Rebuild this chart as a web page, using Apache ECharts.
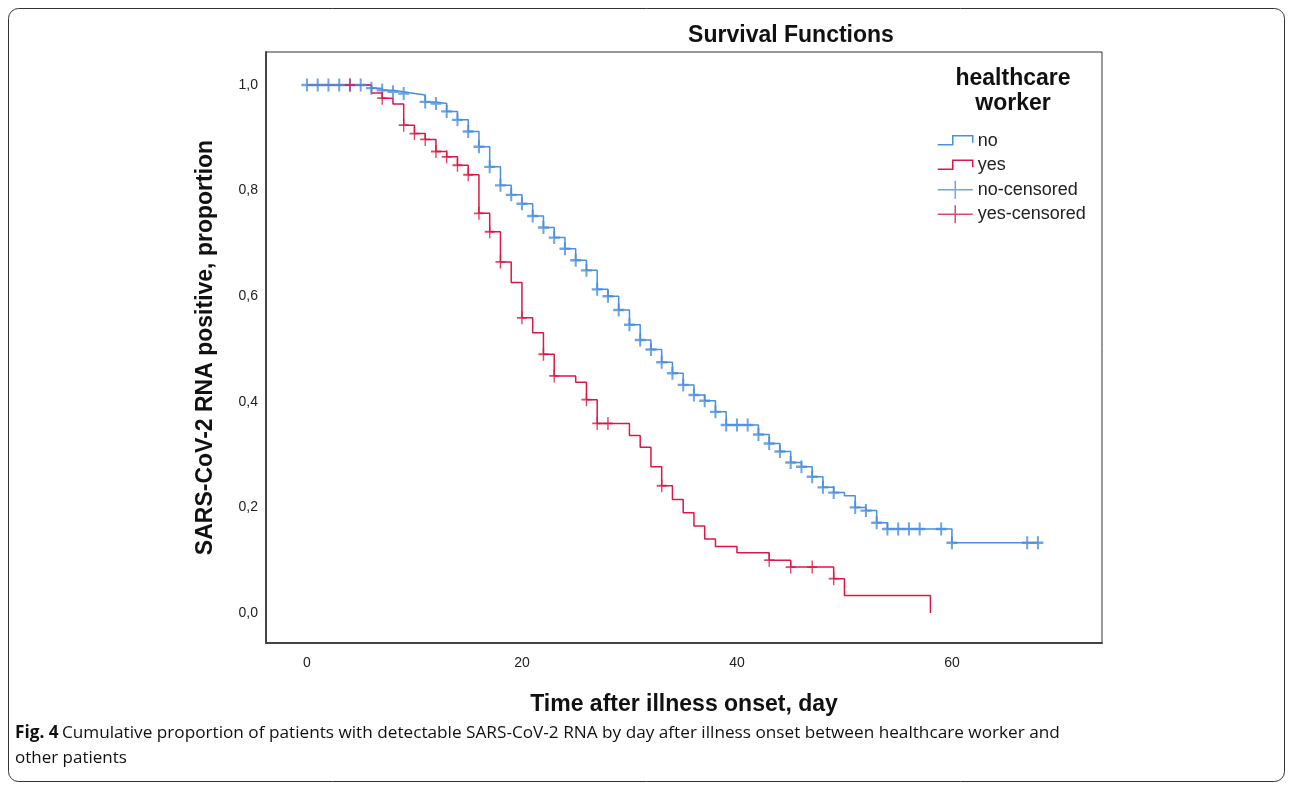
<!DOCTYPE html>
<html>
<head>
<meta charset="utf-8">
<script src="https://cdn.jsdelivr.net/npm/echarts@6/dist/echarts.min.js"></script>
<style>html,body{margin:0;padding:0;background:#fff;}#c{width:1292px;height:789px;}</style>
</head>
<body>
<div id="c"></div>
<script>
// ---- data ----
const xTicks = [0, 20, 40, 60];
const yTicks = [0, 0.2, 0.4, 0.6, 0.8, 1.0];

// healthcare worker = no (Kaplan-Meier steps)
const noTimes = [0,6,7,8,9,10,11,12,13,14,15,16,17,18,19,20,21,22,23,24,25,26,27,28,29,30,31,32,33,34,35,36,37,38,39,42,43,44,45,46,47,48,49,50,51,52,53,54,60,68];
const noSurv  = [1.0,0.994,0.99,0.987,0.984,0.981,0.968,0.965,0.95,0.934,0.912,0.883,0.845,0.81,0.792,0.775,0.752,0.73,0.711,0.69,0.668,0.649,0.613,0.6,0.574,0.546,0.517,0.499,0.475,0.454,0.432,0.413,0.402,0.381,0.356,0.338,0.321,0.306,0.285,0.277,0.258,0.238,0.228,0.222,0.2,0.194,0.171,0.159,0.133,0.133];
// no-censored
const noCensTimes = [0,1,2,3,4,5,6,7,8,9,11,12,13,14,15,16,17,18,19,20,21,22,23,24,25,26,27,28,29,30,31,32,33,34,35,36,37,38,39,40,41,42,43,44,45,46,47,48,49,51,52,53,54,55,56,57,59,60,67,68];
const noCensSurv  = [1.0,1.0,1.0,1.0,1.0,1.0,0.994,0.99,0.987,0.984,0.968,0.965,0.95,0.934,0.912,0.883,0.845,0.81,0.792,0.775,0.752,0.73,0.711,0.69,0.668,0.649,0.613,0.6,0.574,0.546,0.517,0.499,0.475,0.454,0.432,0.413,0.402,0.381,0.356,0.356,0.356,0.338,0.321,0.306,0.285,0.277,0.258,0.238,0.228,0.2,0.194,0.171,0.159,0.159,0.159,0.159,0.159,0.133,0.133,0.133];

// healthcare worker = yes
const yesTimes = [0,6,7,8,9,10,11,12,13,14,15,16,17,18,19,20,21,22,23,25,26,27,30,31,32,33,34,35,36,37,38,40,43,45,49,50,58];
const yesSurv  = [1.0,0.985,0.975,0.964,0.924,0.908,0.897,0.874,0.864,0.848,0.83,0.757,0.722,0.665,0.626,0.559,0.531,0.49,0.449,0.437,0.404,0.359,0.336,0.314,0.277,0.241,0.215,0.19,0.165,0.14,0.126,0.114,0.1,0.087,0.065,0.033,0.0];
// yes-censored
const yesCensTimes = [4,7,9,10,11,12,13,14,15,16,17,18,20,22,23,26,27,28,33,43,45,47,49];
const yesCensSurv  = [1.0,0.975,0.924,0.908,0.897,0.874,0.864,0.848,0.83,0.757,0.722,0.665,0.559,0.49,0.449,0.404,0.359,0.359,0.241,0.1,0.087,0.087,0.065];

// ---- styling ----
const BLUE = '#4a8fe0';
const RED = '#dc1845';
const FONT = '"Liberation Sans", Arial, sans-serif';
const plus = 'path://M0,6 L10,6 M5,0 L5,12';

const zip = (a, b) => a.map((v, i) => [v, b[i]]);
const fmt = v => v.toFixed(1).replace('.', ',');

const chart = echarts.init(document.getElementById('c'), null, {renderer: 'canvas'});
chart.setOption({
  animation: false,
  backgroundColor: '#fff',
  title: {
    text: 'Survival Functions',
    left: 791, top: 24, textAlign: 'center', padding: 0,
    textStyle: {fontFamily: FONT, fontSize: 23, fontWeight: 'bold', color: '#111'}
  },
  grid: {left: 266, top: 52, width: 836, height: 591, show: true, borderColor: '#333', borderWidth: 1, containLabel: false},
  xAxis: {
    type: 'value', min: -3.81, max: 73.96,
    name: 'Time after illness onset, day', nameLocation: 'middle', nameGap: 50,
    nameTextStyle: {fontFamily: FONT, fontSize: 23, fontWeight: 'bold', color: '#111'},
    axisLine: {show: true, onZero: false, lineStyle: {color: '#444', width: 2}},
    axisTick: {show: false},
    splitLine: {show: false},
    axisLabel: {customValues: xTicks, fontFamily: FONT, fontSize: 14, color: '#222', margin: 13}
  },
  yAxis: {
    type: 'value', min: -0.0568, max: 1.0625,
    name: 'SARS-CoV-2 RNA positive, proportion', nameLocation: 'middle', nameGap: 49,
    nameTextStyle: {fontFamily: FONT, fontSize: 23, fontWeight: 'bold', color: '#111'},
    axisLine: {show: true, onZero: false, lineStyle: {color: '#444', width: 2}},
    axisTick: {show: false},
    splitLine: {show: false},
    axisLabel: {customValues: yTicks, formatter: v => fmt(v), fontFamily: FONT, fontSize: 14, color: '#222', margin: 8}
  },
  legend: {
    orient: 'vertical', left: 937, top: 131, padding: 0,
    itemWidth: 35, itemHeight: 18, itemGap: 5,
    textStyle: {fontFamily: FONT, fontSize: 18, lineHeight: 17, color: '#222', padding: [0, 0, 0, 0]},
    data: [
      {name: 'no', icon: 'path://M0,0 M0,13 L15,13 L15,4 L35,4 L35,11 M35,18', itemStyle: {color: 'transparent', borderColor: BLUE, borderWidth: 1.5}},
      {name: 'yes', icon: 'path://M0,0 M0,13 L15,13 L15,4 L35,4 L35,11 M35,18', itemStyle: {color: 'transparent', borderColor: RED, borderWidth: 1.5}},
      {name: 'no-censored', icon: 'path://M0,9 L35,9 M17.5,0 L17.5,18', itemStyle: {color: 'transparent', borderColor: BLUE, borderWidth: 1.5}},
      {name: 'yes-censored', icon: 'path://M0,9 L35,9 M17.5,0 L17.5,18', itemStyle: {color: 'transparent', borderColor: RED, borderWidth: 1.5}}
    ]
  },
  graphic: [
    {type: 'rect', silent: true, z: 100, shape: {x: 8.5, y: 8.5, width: 1276, height: 773, r: 10}, style: {fill: 'none', stroke: '#333', lineWidth: 1}},
    {type: 'text', silent: true, style: {x: 1013, y: 79, text: 'healthcare', align: 'center', verticalAlign: 'middle', font: 'bold 23px ' + FONT, fill: '#111'}},
    {type: 'text', silent: true, style: {x: 1013, y: 104, text: 'worker', align: 'center', verticalAlign: 'middle', font: 'bold 23px ' + FONT, fill: '#111'}},
    {type: 'text', silent: true, style: {x: 15, y: 733, verticalAlign: 'middle',
      text: '{b|Fig. 4} {n|Cumulative proportion of patients with detectable SARS-CoV-2 RNA by day after illness onset between healthcare worker and}',
      rich: {b: {fontFamily: '"Open Sans"', fontWeight: 'bold', fontSize: 17.2, fill: '#111'}, n: {fontFamily: '"Open Sans"', fontSize: 17.2, fill: '#111'}}}},
    {type: 'text', silent: true, style: {x: 15, y: 758, verticalAlign: 'middle', text: 'other patients', font: '17px "Open Sans"', fill: '#111'}}
  ],
  series: [
    {name: 'no', type: 'line', step: 'end', data: zip(noTimes, noSurv), symbol: 'none', lineStyle: {color: BLUE, width: 1.5}, itemStyle: {color: BLUE}, z: 3},
    {name: 'yes', type: 'line', step: 'end', data: zip(yesTimes, yesSurv), symbol: 'none', lineStyle: {color: RED, width: 1.5}, itemStyle: {color: RED}, z: 4},
    {name: 'no-censored', type: 'scatter', data: zip(noCensTimes, noCensSurv), symbol: plus, symbolSize: [11, 13], itemStyle: {color: 'transparent', borderColor: BLUE, borderWidth: 2.2}, z: 5},
    {name: 'yes-censored', type: 'scatter', data: zip(yesCensTimes, yesCensSurv), symbol: plus, symbolSize: [10, 13], itemStyle: {color: 'transparent', borderColor: RED, borderWidth: 1.6}, z: 6}
  ]
});
</script>
</body>
</html>
